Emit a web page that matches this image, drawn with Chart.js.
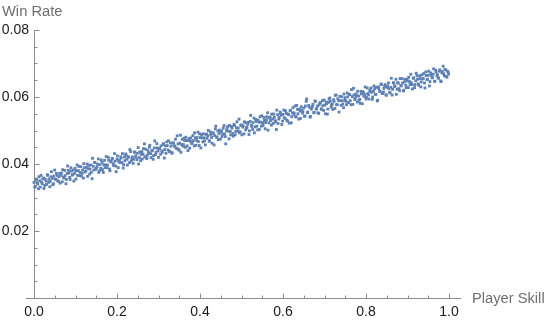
<!DOCTYPE html>
<html>
<head>
<meta charset="utf-8">
<script src="https://cdn.jsdelivr.net/npm/chart.js@4/dist/chart.umd.min.js"></script>
<style>
html,body{margin:0;padding:0;background:#fff;}
canvas{display:block;}
</style>
</head>
<body>
<canvas id="c" width="545" height="324"></canvas>
<script>
// ---- data ----
const skill = [
0,0.003,0.006,0.009,0.012,0.015,0.018,0.021,0.024,0.027,
0.03,0.033,0.036,0.039,0.042,0.045,0.048,0.051,0.054,0.057,
0.06,0.063,0.066,0.069,0.072,0.075,0.078,0.081,0.084,0.087,
0.09,0.093,0.096,0.099,0.102,0.105,0.108,0.111,0.114,0.117,
0.12,0.123,0.126,0.129,0.132,0.135,0.138,0.141,0.144,0.147,
0.15,0.153,0.156,0.159,0.162,0.165,0.168,0.171,0.174,0.177,
0.18,0.183,0.186,0.189,0.192,0.195,0.198,0.201,0.204,0.207,
0.21,0.213,0.216,0.219,0.222,0.225,0.228,0.231,0.234,0.237,
0.24,0.243,0.246,0.249,0.252,0.255,0.258,0.261,0.264,0.267,
0.27,0.273,0.276,0.279,0.282,0.285,0.288,0.291,0.294,0.297,
0.3,0.303,0.306,0.309,0.312,0.315,0.318,0.321,0.324,0.327,
0.33,0.333,0.336,0.339,0.342,0.345,0.348,0.351,0.354,0.357,
0.36,0.363,0.366,0.369,0.372,0.375,0.378,0.381,0.384,0.387,
0.39,0.393,0.396,0.399,0.402,0.405,0.408,0.411,0.414,0.417,
0.42,0.423,0.426,0.429,0.432,0.435,0.438,0.441,0.444,0.447,
0.45,0.453,0.456,0.459,0.462,0.465,0.468,0.471,0.474,0.477,
0.48,0.483,0.486,0.489,0.492,0.495,0.498,0.501,0.504,0.507,
0.51,0.513,0.516,0.519,0.522,0.525,0.528,0.531,0.534,0.537,
0.54,0.543,0.546,0.549,0.552,0.555,0.558,0.561,0.564,0.567,
0.57,0.573,0.576,0.579,0.582,0.585,0.588,0.591,0.594,0.597,
0.6,0.603,0.606,0.609,0.612,0.615,0.618,0.621,0.624,0.627,
0.63,0.633,0.636,0.639,0.642,0.645,0.648,0.651,0.654,0.657,
0.66,0.663,0.666,0.669,0.672,0.675,0.678,0.681,0.684,0.687,
0.69,0.693,0.696,0.699,0.702,0.705,0.708,0.711,0.714,0.717,
0.72,0.723,0.726,0.729,0.732,0.735,0.738,0.741,0.744,0.747,
0.75,0.753,0.756,0.759,0.762,0.765,0.768,0.771,0.774,0.777,
0.78,0.783,0.786,0.789,0.792,0.795,0.798,0.801,0.804,0.807,
0.81,0.813,0.816,0.819,0.822,0.825,0.828,0.831,0.834,0.837,
0.84,0.843,0.846,0.849,0.852,0.855,0.858,0.861,0.864,0.867,
0.87,0.873,0.876,0.879,0.882,0.885,0.888,0.891,0.894,0.897,
0.9,0.903,0.906,0.909,0.912,0.915,0.918,0.921,0.924,0.927,
0.93,0.933,0.936,0.939,0.942,0.945,0.948,0.951,0.954,0.957,
0.96,0.963,0.966,0.969,0.972,0.975,0.978,0.981,0.984,0.987,
0.99,0.993,0.996,0.999,
0.002,0.005,0.008,0.011,0.014,0.017,0.02,0.023,0.026,0.029,
0.032,0.035,0.038,0.041,0.044,0.047,0.05,0.053,0.056,0.059,
0.062,0.065,0.068,0.071,0.074,0.077,0.08,0.083,0.086,0.089,
0.092,0.095,0.098,0.101,0.104,0.107,0.11,0.113,0.116,0.119,
0.122,0.125,0.128,0.131,0.134,0.137,0.14,0.143,0.146,0.149,
0.152,0.155,0.158,0.161,0.164,0.167,0.17,0.173,0.176,0.179,
0.182,0.185,0.188,0.191,0.194,0.197,0.2,0.203,0.206,0.209,
0.212,0.215,0.218,0.221,0.224,0.227,0.23,0.233,0.236,0.239,
0.242,0.245,0.248,0.251,0.254,0.257,0.26,0.263,0.266,0.269,
0.272,0.275,0.278,0.281,0.284,0.287,0.29,0.293,0.296,0.299,
0.302,0.305,0.308,0.311,0.314,0.317,0.32,0.323,0.326,0.329,
0.332,0.335,0.338,0.341,0.344,0.347,0.35,0.353,0.356,0.359,
0.362,0.365,0.368,0.371,0.374,0.377,0.38,0.383,0.386,0.389,
0.392,0.395,0.398,0.401,0.404,0.407,0.41,0.413,0.416,0.419,
0.422,0.425,0.428,0.431,0.434,0.437,0.44,0.443,0.446,0.449,
0.452,0.455,0.458,0.461,0.464,0.467,0.47,0.473,0.476,0.479,
0.482,0.485,0.488,0.491,0.494,0.497,0.5,0.503,0.506,0.509,
0.512,0.515,0.518,0.521,0.524,0.527,0.53,0.533,0.536,0.539,
0.542,0.545,0.548,0.551,0.554,0.557,0.56,0.563,0.566,0.569,
0.572,0.575,0.578,0.581,0.584,0.587,0.59,0.593,0.596,0.599,
0.602,0.605,0.608,0.611,0.614,0.617,0.62,0.623,0.626,0.629,
0.632,0.635,0.638,0.641,0.644,0.647,0.65,0.653,0.656,0.659,
0.662,0.665,0.668,0.671,0.674,0.677,0.68,0.683,0.686,0.689,
0.692,0.695,0.698,0.701,0.704,0.707,0.71,0.713,0.716,0.719,
0.722,0.725,0.728,0.731,0.734,0.737,0.74,0.743,0.746,0.749,
0.752,0.755,0.758,0.761,0.764,0.767,0.77,0.773,0.776,0.779,
0.782,0.785,0.788,0.791,0.794,0.797,0.8,0.803,0.806,0.809,
0.812,0.815,0.818,0.821,0.824,0.827,0.83,0.833,0.836,0.839,
0.842,0.845,0.848,0.851,0.854,0.857,0.86,0.863,0.866,0.869,
0.872,0.875,0.878,0.881,0.884,0.887,0.89,0.893,0.896,0.899,
0.902,0.905,0.908,0.911,0.914,0.917,0.92,0.923,0.926,0.929,
0.932,0.935,0.938,0.941,0.944,0.947,0.95,0.953,0.956,0.959,
0.962,0.965,0.968,0.971,0.974,0.977,0.98,0.983,0.986,0.989,
0.992,0.995,0.998
];
const winRate = [
0.0345,0.0333,0.0354,0.0340,0.0362,0.0331,0.0346,0.0356,0.0327,0.0355,
0.0339,0.0366,0.0355,0.0348,0.0377,0.0338,0.0364,0.0355,0.0372,0.0350,
0.0362,0.0343,0.0373,0.0383,0.0358,0.0365,0.0354,0.0394,0.0373,0.0354,
0.0379,0.0368,0.0349,0.0387,0.0380,0.0366,0.0393,0.0375,0.0364,0.0382,
0.0401,0.0376,0.0390,0.0363,0.0396,0.0385,0.0375,0.0417,0.0382,0.0404,
0.0387,0.0400,0.0375,0.0398,0.0412,0.0383,0.0398,0.0389,0.0422,0.0397,
0.0411,0.0380,0.0408,0.0417,0.0395,0.0408,0.0377,0.0424,0.0408,0.0404,
0.0418,0.0431,0.0398,0.0410,0.0426,0.0397,0.0421,0.0443,0.0409,0.0421,
0.0414,0.0436,0.0420,0.0432,0.0400,0.0436,0.0429,0.0415,0.0446,0.0421,
0.0444,0.0426,0.0432,0.0456,0.0419,0.0441,0.0425,0.0469,0.0435,0.0448,
0.0420,0.0446,0.0454,0.0435,0.0461,0.0443,0.0432,0.0455,0.0469,0.0438,
0.0453,0.0434,0.0463,0.0453,0.0448,0.0484,0.0444,0.0462,0.0435,0.0474,
0.0458,0.0470,0.0480,0.0454,0.0470,0.0447,0.0478,0.0464,0.0470,0.0493,
0.0456,0.0479,0.0467,0.0490,0.0448,0.0478,0.0490,0.0469,0.0489,0.0477,
0.0500,0.0469,0.0488,0.0462,0.0493,0.0485,0.0513,0.0481,0.0473,0.0501,
0.0495,0.0482,0.0507,0.0490,0.0460,0.0506,0.0498,0.0515,0.0487,0.0507,
0.0483,0.0515,0.0497,0.0526,0.0507,0.0493,0.0515,0.0487,0.0514,0.0526,
0.0502,0.0511,0.0524,0.0499,0.0545,0.0512,0.0524,0.0493,0.0533,0.0513,
0.0531,0.0503,0.0525,0.0544,0.0515,0.0530,0.0524,0.0541,0.0501,0.0538,
0.0530,0.0549,0.0521,0.0539,0.0529,0.0561,0.0521,0.0539,0.0550,0.0518,
0.0548,0.0538,0.0559,0.0531,0.0549,0.0522,0.0560,0.0541,0.0568,0.0552,
0.0541,0.0575,0.0550,0.0564,0.0536,0.0561,0.0556,0.0543,0.0573,0.0594,
0.0555,0.0570,0.0542,0.0566,0.0578,0.0554,0.0587,0.0565,0.0553,0.0577,
0.0582,0.0563,0.0574,0.0591,0.0550,0.0580,0.0564,0.0594,0.0587,0.0576,
0.0563,0.0587,0.0605,0.0577,0.0595,0.0555,0.0589,0.0601,0.0579,0.0609,
0.0590,0.0577,0.0600,0.0608,0.0589,0.0622,0.0578,0.0606,0.0596,0.0604,
0.0617,0.0590,0.0581,0.0609,0.0616,0.0602,0.0630,0.0599,0.0610,0.0594,
0.0621,0.0614,0.0600,0.0633,0.0608,0.0629,0.0590,0.0625,0.0616,0.0637,
0.0611,0.0626,0.0637,0.0605,0.0633,0.0625,0.0612,0.0656,0.0623,0.0641,
0.0633,0.0608,0.0643,0.0625,0.0655,0.0633,0.0642,0.0620,0.0653,0.0628,
0.0648,0.0659,0.0637,0.0643,0.0624,0.0657,0.0637,0.0671,0.0653,0.0635,
0.0664,0.0645,0.0654,0.0670,0.0627,0.0664,0.0653,0.0677,0.0646,0.0665,
0.0658,0.0684,0.0647,0.0674,0.0667,0.0657,0.0681,0.0646,0.0676,0.0669,
0.0682,0.0662,0.0677,0.0668,
0.0331,0.0355,0.0344,0.0326,0.0350,0.0366,0.0341,0.0358,0.0336,0.0349,
0.0368,0.0345,0.0332,0.0362,0.0357,0.0341,0.0382,0.0354,0.0366,0.0348,
0.0372,0.0366,0.0347,0.0361,0.0381,0.0341,0.0372,0.0381,0.0360,0.0389,
0.0367,0.0382,0.0372,0.0355,0.0397,0.0380,0.0365,0.0392,0.0372,0.0358,
0.0389,0.0379,0.0400,0.0386,0.0370,0.0397,0.0356,0.0393,0.0405,0.0384,
0.0392,0.0415,0.0380,0.0387,0.0405,0.0375,0.0411,0.0397,0.0389,0.0420,
0.0385,0.0406,0.0416,0.0400,0.0431,0.0394,0.0414,0.0389,0.0411,0.0421,
0.0404,0.0388,0.0421,0.0430,0.0414,0.0421,0.0404,0.0437,0.0416,0.0402,
0.0435,0.0424,0.0413,0.0449,0.0419,0.0410,0.0437,0.0429,0.0460,0.0421,
0.0416,0.0439,0.0450,0.0431,0.0439,0.0414,0.0448,0.0428,0.0461,0.0439,
0.0446,0.0429,0.0439,0.0458,0.0418,0.0454,0.0466,0.0442,0.0437,0.0463,
0.0432,0.0462,0.0454,0.0474,0.0446,0.0460,0.0441,0.0486,0.0458,0.0453,
0.0477,0.0450,0.0470,0.0440,0.0476,0.0468,0.0461,0.0485,0.0454,0.0478,
0.0470,0.0495,0.0455,0.0479,0.0488,0.0466,0.0478,0.0457,0.0489,0.0484,
0.0468,0.0496,0.0479,0.0491,0.0457,0.0505,0.0480,0.0499,0.0491,0.0474,
0.0499,0.0489,0.0515,0.0482,0.0499,0.0512,0.0475,0.0497,0.0512,0.0491,
0.0518,0.0487,0.0508,0.0498,0.0534,0.0496,0.0517,0.0510,0.0490,0.0524,
0.0507,0.0519,0.0488,0.0527,0.0516,0.0503,0.0537,0.0511,0.0527,0.0502,
0.0525,0.0541,0.0513,0.0523,0.0539,0.0505,0.0532,0.0553,0.0523,0.0540,
0.0516,0.0534,0.0549,0.0525,0.0503,0.0547,0.0534,0.0555,0.0546,0.0528,
0.0561,0.0536,0.0551,0.0528,0.0547,0.0559,0.0523,0.0553,0.0548,0.0573,
0.0541,0.0563,0.0534,0.0558,0.0571,0.0552,0.0567,0.0543,0.0587,0.0553,
0.0575,0.0540,0.0564,0.0572,0.0553,0.0588,0.0564,0.0573,0.0551,0.0583,
0.0565,0.0589,0.0560,0.0576,0.0585,0.0549,0.0584,0.0597,0.0570,0.0579,
0.0592,0.0566,0.0606,0.0577,0.0589,0.0602,0.0575,0.0589,0.0568,0.0598,
0.0587,0.0612,0.0583,0.0607,0.0577,0.0601,0.0626,0.0592,0.0609,0.0585,
0.0603,0.0593,0.0617,0.0580,0.0613,0.0607,0.0594,0.0627,0.0606,0.0617,
0.0627,0.0593,0.0617,0.0625,0.0608,0.0588,0.0630,0.0617,0.0639,0.0610,
0.0615,0.0632,0.0607,0.0629,0.0642,0.0614,0.0629,0.0606,0.0643,0.0631,
0.0653,0.0623,0.0641,0.0619,0.0634,0.0655,0.0618,0.0645,0.0635,0.0653,
0.0628,0.0646,0.0668,0.0637,0.0656,0.0628,0.0648,0.0664,0.0639,0.0655,
0.0630,0.0666,0.0655,0.0642,0.0675,0.0652,0.0665,0.0633,0.0672,0.0657,
0.0668,0.0647,0.0680,0.0663,0.0656,0.0677,0.0648,0.0672,0.0692,0.0663,
0.0681,0.0659,0.0675
];
const xTicks = [0,0.05,0.1,0.15,0.2,0.25,0.3,0.35,0.4,0.45,0.5,0.55,0.6,0.65,0.7,0.75,0.8,0.85,0.9,0.95,1.0];
const xTickLabels = [0,0.2,0.4,0.6,0.8,1.0];
const yTicks = [0.005,0.01,0.015,0.02,0.025,0.03,0.035,0.04,0.045,0.05,0.055,0.06,0.065,0.07,0.075,0.08];
const yTickLabels = [0.02,0.04,0.06,0.08];
const xTitle = 'Player Skill';
const yTitle = 'Win Rate';

const points = skill.map((x, i) => ({x: x, y: winRate[i]}));
const isIn = (v, arr) => arr.some(a => Math.abs(a - v) < 1e-9);

const AXIS_COLOR = '#8c8c8c';
const FONT = "'Liberation Sans', Arial, sans-serif";
Chart.defaults.font.family = FONT;

const tickPlugin = {
  id: 'mmaTicks',
  afterDraw(chart) {
    const ctx = chart.ctx;
    const xs = chart.scales.x, ys = chart.scales.y;
    const axisY = Math.round(ys.getPixelForValue(0)) + 0.5;
    const axisX = Math.round(xs.getPixelForValue(0)) + 0.5;
    ctx.save();
    ctx.strokeStyle = AXIS_COLOR;
    ctx.lineWidth = 1;
    ctx.beginPath();
    // short stretch of the horizontal axis to the left of the origin
    ctx.moveTo(axisX - 8.5, axisY); ctx.lineTo(axisX, axisY);
    xTicks.forEach(v => {
      const px = Math.round(xs.getPixelForValue(v)) + 0.5;
      const len = isIn(v, xTickLabels) ? 5 : 3;
      ctx.moveTo(px, axisY); ctx.lineTo(px, axisY - len);
    });
    yTicks.forEach(v => {
      const py = Math.round(ys.getPixelForValue(v)) + 0.5;
      const len = isIn(v, yTickLabels) ? 5 : 3;
      ctx.moveTo(axisX, py); ctx.lineTo(axisX + len, py);
    });
    ctx.stroke();
    ctx.fillStyle = '#6e6e6e';
    ctx.font = '14.7px ' + FONT;
    ctx.textBaseline = 'middle';
    ctx.textAlign = 'left';
    ctx.fillText(yTitle, 2, 12);
    ctx.fillText(xTitle, xs.right + 12, axisY);
    ctx.restore();
  }
};

new Chart(document.getElementById('c'), {
  type: 'scatter',
  data: {
    datasets: [{
      data: points,
      pointStyle: 'rect',
      pointRadius: 2.0,
      pointBorderWidth: 0,
      pointBackgroundColor: '#5E81B5',
      pointBorderColor: '#5E81B5',
      clip: false
    }]
  },
  options: {
    responsive: false,
    animation: false,
    events: [],
    layout: {padding: {left: 0, right: 85, top: 30, bottom: 0}},
    plugins: {legend: {display: false}, tooltip: {enabled: false}, title: {display: false}},
    scales: {
      x: {
        type: 'linear',
        position: 'bottom',
        min: 0,
        max: 1.0265,
        afterBuildTicks: s => { s.ticks = xTicks.map(v => ({value: v})); },
        afterFit: s => { s.height = 26; },
        grid: {display: true, drawOnChartArea: false, drawTicks: false},
        border: {display: true, color: AXIS_COLOR, width: 1},
        ticks: {
          autoSkip: false,
          maxRotation: 0,
          padding: 6,
          color: '#1a1a1a',
          font: {size: 14},
          callback: v => isIn(v, xTickLabels) ? v.toFixed(1) : ''
        }
      },
      y: {
        type: 'linear',
        position: 'left',
        min: 0,
        max: 0.08,
        afterBuildTicks: s => { s.ticks = yTicks.map(v => ({value: v})); },
        afterFit: s => { s.width = 34; },
        grid: {display: true, drawOnChartArea: false, drawTicks: false},
        border: {display: true, color: AXIS_COLOR, width: 1},
        ticks: {
          autoSkip: false,
          padding: 5,
          color: '#1a1a1a',
          font: {size: 14},
          callback: v => isIn(v, yTickLabels) ? v.toFixed(2) : ''
        }
      }
    }
  },
  plugins: [tickPlugin]
});
</script>
</body>
</html>
